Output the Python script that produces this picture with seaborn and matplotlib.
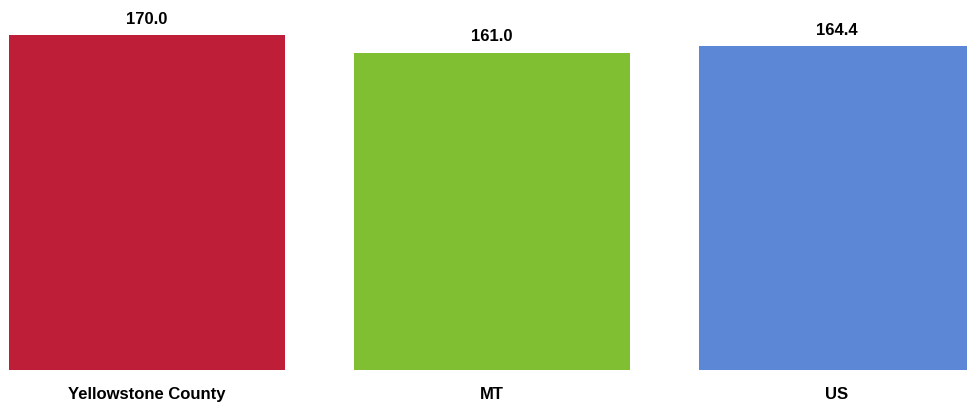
import matplotlib
matplotlib.use("Agg")
import matplotlib.pyplot as plt
import seaborn as sns
import pandas as pd

regions = ["Yellowstone County", "MT", "US"]
values = [170.0, 161.0, 164.4]
colors = ["#BE1E37", "#80BF32", "#5B87D6"]

sns.set_style("white")
plt.rcParams['font.family'] = ['Liberation Sans Narrow', 'Liberation Sans', 'DejaVu Sans']

df = pd.DataFrame({'region': regions, 'value': values})

fig = plt.figure(figsize=(9.67, 4.04), dpi=100)
ax = fig.add_axes([0, 34 / 404, 1, 370 / 404])

sns.barplot(data=df, x='region', y='value', hue='region', palette=colors,
            width=0.8, saturation=1, legend=False, linewidth=0, ax=ax)

ax.set_xlim(-147 / 345, (967 - 147) / 345)
ax.set_ylim(0, 170 * 370 / 335)

for i, v in enumerate(values):
    ax.annotate(f"{v:.1f}", (i, v), xytext=(0, 6), textcoords='offset points',
                ha='center', va='bottom', fontsize=12, fontweight='bold',
                color='black')

ax.set_xlabel('')
ax.set_ylabel('')
ax.set_yticks([])
ax.tick_params(axis='x', length=0, pad=12, colors='black')
for lbl in ax.get_xticklabels():
    lbl.set_fontsize(12)
    lbl.set_fontweight('bold')
sns.despine(ax=ax, left=True, bottom=True)

fig.savefig("out.png", dpi=100)
